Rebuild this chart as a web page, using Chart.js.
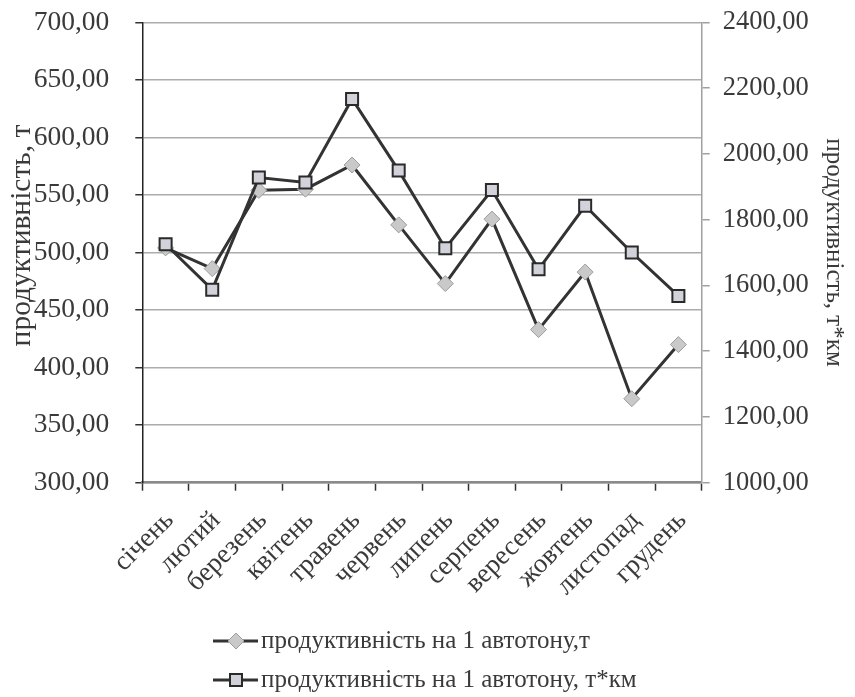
<!DOCTYPE html>
<html>
<head>
<meta charset="utf-8">
<script src="https://cdn.jsdelivr.net/npm/chart.js@4/dist/chart.umd.min.js"></script>
<style>
  html, body { margin: 0; padding: 0; background: #ffffff; }
  #wrap { width: 855px; height: 697px; }
</style>
</head>
<body>
<div id="wrap"><canvas id="chart" width="855" height="697"></canvas></div>
<script>
// Months of the year
const months = ['січень', 'лютий', 'березень', 'квітень', 'травень', 'червень',
                'липень', 'серпень', 'вересень', 'жовтень', 'листопад', 'грудень'];

// Productivity per 1 truck-tonne, tonnes (left axis)
const perTonne = [504, 486, 554, 555, 576, 524, 473, 529, 433, 483, 373, 420];

// Productivity per 1 truck-tonne, tonne-km (right axis)
const perTonneKm = [1725, 1587, 1928, 1913, 2167, 1949, 1713, 1890, 1649, 1842, 1700, 1568];

const labelTonne = 'продуктивність на 1 автотону,т';
const labelTonneKm = 'продуктивність на 1 автотону, т*км';
const titleLeft = 'продуктивність, т';
const titleRight = 'продуктивність, т*км';

const FONT = 'Liberation Serif';
const TEXT = '#3a3a3a';
const fmt = v => Number(v).toFixed(2).replace('.', ',');

const styleTonne = {
  pointStyle: 'rectRot', radius: 8, borderWidth: 1,
  backgroundColor: '#c9c9c9', borderColor: '#9c9c9c'
};
const styleTonneKm = {
  pointStyle: 'rect', radius: 8.5, borderWidth: 2,
  backgroundColor: '#d2d3da', borderColor: '#2a2a2a'
};

// Keep the plot rectangle fixed: no extra room reserved for edge labels
const noEdgePadding = s => {
  s.paddingTop = 0; s.paddingBottom = 0; s.paddingLeft = 0; s.paddingRight = 0;
};

// Two-row legend below the axis: line segment with a marker, then the label
const rowLegend = {
  id: 'rowLegend',
  afterDraw(chart) {
    const ctx = chart.ctx;
    const rows = [
      { ds: chart.data.datasets[1], y: 641 },
      { ds: chart.data.datasets[0], y: 680 }
    ];
    ctx.save();
    rows.forEach(r => {
      const x0 = 213, x1 = 258, xm = 236;
      ctx.strokeStyle = '#333333';
      ctx.lineWidth = 3;
      ctx.beginPath();
      ctx.moveTo(x0, r.y);
      ctx.lineTo(x1, r.y);
      ctx.stroke();
      ctx.fillStyle = r.ds.pointBackgroundColor;
      ctx.strokeStyle = r.ds.pointBorderColor;
      ctx.lineWidth = r.ds.pointBorderWidth;
      Chart.helpers.drawPoint(ctx, {
        pointStyle: r.ds.pointStyle, radius: r.ds.pointRadius,
        borderWidth: r.ds.pointBorderWidth, rotation: 0
      }, xm, r.y);
      ctx.fillStyle = TEXT;
      ctx.font = '25px "' + FONT + '"';
      ctx.textBaseline = 'middle';
      ctx.textAlign = 'left';
      ctx.fillText(r.ds.label, 261, r.y);
    });
    ctx.restore();
  }
};

// Left axis title, drawn a little above the middle of the axis
const leftTitle = {
  id: 'leftTitle',
  afterDraw(chart) {
    const ctx = chart.ctx;
    const area = chart.chartArea;
    ctx.save();
    ctx.translate(22, (area.top + area.bottom) / 2 - 17);
    ctx.rotate(-Math.PI / 2);
    ctx.fillStyle = TEXT;
    ctx.font = '29.5px "' + FONT + '"';
    ctx.textAlign = 'center';
    ctx.textBaseline = 'middle';
    ctx.fillText(titleLeft, 0, 0);
    ctx.restore();
  }
};

new Chart(document.getElementById('chart'), {
  type: 'line',
  data: {
    labels: months,
    datasets: [
      {
        label: labelTonneKm,
        data: perTonneKm,
        yAxisID: 'yKm',
        order: 1,
        borderColor: '#333333',
        borderWidth: 3,
        tension: 0,
        fill: false,
        pointStyle: styleTonneKm.pointStyle,
        pointRadius: styleTonneKm.radius,
        pointBorderWidth: styleTonneKm.borderWidth,
        pointBackgroundColor: styleTonneKm.backgroundColor,
        pointBorderColor: styleTonneKm.borderColor
      },
      {
        label: labelTonne,
        data: perTonne,
        yAxisID: 'yT',
        order: 2,
        borderColor: '#333333',
        borderWidth: 3,
        tension: 0,
        fill: false,
        pointStyle: styleTonne.pointStyle,
        pointRadius: styleTonne.radius,
        pointBorderWidth: styleTonne.borderWidth,
        pointBackgroundColor: styleTonne.backgroundColor,
        pointBorderColor: styleTonne.borderColor
      }
    ]
  },
  options: {
    responsive: false,
    animation: false,
    devicePixelRatio: 1,
    layout: { padding: { top: 22.3, left: 0, right: 0, bottom: 0 } },
    plugins: {
      legend: { display: false },
      tooltip: { enabled: false }
    },
    scales: {
      x: {
        offset: true,
        grid: { offset: true, drawOnChartArea: false, tickLength: 8, tickColor: '#333333', tickWidth: 1.5 },
        border: { color: '#8a8a8a', width: 2.5 },
        ticks: {
          minRotation: 45, maxRotation: 45, padding: 14, autoSkip: false, labelOffset: 4,
          color: TEXT, font: { family: FONT, size: 27 }
        },
        afterFit(s) { s.height = 697 - 482.7; noEdgePadding(s); }
      },
      yT: {
        position: 'left',
        min: 300, max: 700,
        grid: { color: '#acacac', lineWidth: 1.5, tickColor: '#333333', tickLength: 7 },
        border: { color: '#222222', width: 1.5 },
        ticks: {
          stepSize: 50, padding: 26, color: TEXT,
          font: { family: FONT, size: 27.5 },
          callback: v => fmt(v)
        },
        title: { display: false },
        afterFit(s) { s.width = 142.3; noEdgePadding(s); }
      },
      yKm: {
        position: 'right',
        min: 1000, max: 2400,
        grid: { drawOnChartArea: false, tickColor: '#a0a0a0', tickLength: 8, lineWidth: 1.5 },
        border: { color: '#a0a0a0', width: 1.5 },
        ticks: {
          stepSize: 200, padding: 13, color: TEXT,
          font: { family: FONT, size: 26.5 },
          callback: v => fmt(v)
        },
        title: {
          display: true, text: titleRight, color: TEXT,
          font: { family: FONT, size: 25 }, padding: { top: 6, bottom: 0 }
        },
        afterFit(s) { s.width = 855 - 701.7; noEdgePadding(s); }
      }
    }
  },
  plugins: [rowLegend, leftTitle]
});
</script>
</body>
</html>
